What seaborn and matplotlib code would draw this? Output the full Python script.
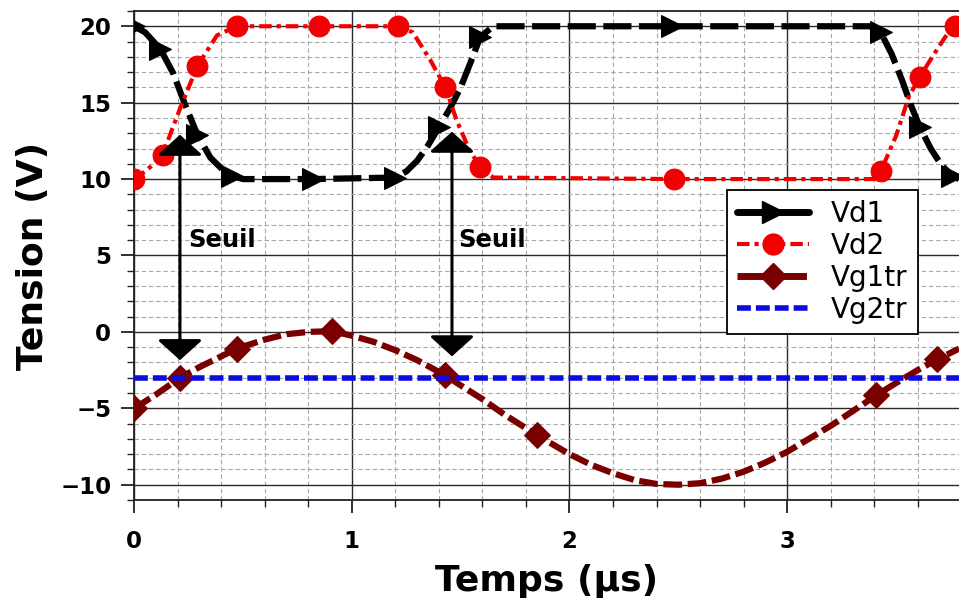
import seaborn as sns
import matplotlib.pyplot as plt
from matplotlib.lines import Line2D
from matplotlib.ticker import MultipleLocator

# Data (time in µs, tension in V)
vd1_t = [0, 0.05, 0.12, 0.18, 0.23, 0.29, 0.35, 0.40, 0.45, 0.50, 0.82, 1.20, 1.25, 1.30,
         1.35, 1.40, 1.45, 1.50, 1.55, 1.59, 1.65, 2.47, 3.38, 3.43, 3.48, 3.53, 3.57, 3.61,
         3.66, 3.71, 3.76, 3.79]
vd1_v = [20, 19.6, 18.5, 16.9, 15.0, 12.9, 11.4, 10.7, 10.2, 10.0, 10.0, 10.1, 10.5, 11.2,
         12.2, 13.4, 14.6, 16.0, 17.8, 19.3, 20.0, 20.0, 20.0, 19.6, 18.2, 16.4, 14.8, 13.4,
         12.0, 10.9, 10.2, 10.0]
vd1_marks = [0, 0.12, 0.29, 0.45, 0.82, 1.20, 1.40, 1.59, 2.47, 3.43, 3.61, 3.76]

vd2_t = [0, 0.06, 0.13, 0.21, 0.29, 0.38, 0.47, 0.85, 1.21, 1.28, 1.36, 1.43, 1.48, 1.54,
         1.59, 1.65, 2.48, 3.40, 3.43, 3.50, 3.56, 3.61, 3.69, 3.75, 3.77, 3.79]
vd2_v = [10, 10.6, 11.6, 14.6, 17.4, 19.4, 20, 20, 20, 19.6, 17.8, 16.0, 13.9, 11.9,
         10.8, 10.1, 10, 10, 10.5, 12.8, 15.4, 16.7, 18.5, 19.8, 20, 20]
vd2_marks = [0, 0.13, 0.29, 0.47, 0.85, 1.21, 1.43, 1.59, 2.48, 3.43, 3.61, 3.77]

vg1_t = [0, 0.1, 0.21, 0.3, 0.4, 0.47, 0.6, 0.7, 0.8, 0.91, 1.0, 1.1, 1.2, 1.3, 1.43, 1.5,
         1.6, 1.7, 1.85, 2.0, 2.1, 2.2, 2.3, 2.4, 2.5, 2.6, 2.7, 2.8, 2.9, 3.0, 3.1, 3.2,
         3.3, 3.41, 3.5, 3.6, 3.69, 3.79]
vg1_v = [-5.0, -4.1, -3.0, -2.3, -1.6, -1.1, -0.5, -0.15, 0.0, 0.05, -0.25, -0.65, -1.2,
         -1.85, -2.85, -3.5, -4.4, -5.4, -6.75, -8.0, -8.7, -9.25, -9.7, -9.95, -10.0, -9.9,
         -9.6, -9.15, -8.55, -7.85, -7.0, -6.15, -5.2, -4.15, -3.35, -2.5, -1.8, -1.1]
vg1_marks = [0, 0.21, 0.47, 0.91, 1.43, 1.85, 3.41, 3.69]

vg2_t = [0, 3.79]
vg2_v = [-3, -3]

# Threshold arrows: x position, top and bottom of the arrow
seuil_x = [0.21, 1.46]
seuil_top = [12.9, 13.1]
seuil_bot = [-1.85, -1.6]
seuil_text_x = [0.25, 1.49]
seuil_text_y = [6.0, 6.0]

sns.set_theme(style="white")
plt.rcParams['font.family'] = ['DejaVu Sans']
plt.rcParams['text.color'] = 'black'
plt.rcParams['axes.labelcolor'] = 'black'
plt.rcParams['xtick.color'] = 'black'
plt.rcParams['ytick.color'] = 'black'

fig = plt.figure(figsize=(9.59, 6.03), dpi=100)
ax = fig.add_axes([0.140, 0.1708, 0.860, 0.811])

c_vd2 = '#f00000'
c_vg1 = '#7a0000'
c_vg2 = '#0c0cde'

sns.lineplot(x=vd1_t, y=vd1_v, ax=ax, estimator=None, sort=False, color='black', lw=4.5,
             linestyle=(0, (4.5, 1.2)), marker='>', ms=16, markeredgecolor='black',
             markevery=[vd1_t.index(t) for t in vd1_marks], zorder=3)
sns.lineplot(x=vd2_t, y=vd2_v, ax=ax, estimator=None, sort=False, color=c_vd2, lw=3,
             linestyle=(0, (3, 1.2, 1, 1.2)), marker='o', ms=15, markeredgecolor=c_vd2,
             markevery=[vd2_t.index(t) for t in vd2_marks], zorder=4)
sns.lineplot(x=vg1_t, y=vg1_v, ax=ax, estimator=None, sort=False, color=c_vg1, lw=4.5,
             linestyle=(0, (3, 0.9)), marker='D', ms=13, markeredgecolor=c_vg1,
             markevery=[vg1_t.index(t) for t in vg1_marks], zorder=3)
sns.lineplot(x=vg2_t, y=vg2_v, ax=ax, estimator=None, sort=False, color=c_vg2, lw=4,
             linestyle=(0, (2.5, 0.9)), zorder=3)

# Seuil arrows and labels
for x, top, bot, tx, ty in zip(seuil_x, seuil_top, seuil_bot, seuil_text_x, seuil_text_y):
    ax.annotate("", xy=(x, bot), xytext=(x, top),
                arrowprops=dict(arrowstyle="<|-|>,head_length=0.63,head_width=0.7",
                                color='black', lw=2.2, mutation_scale=20,
                                shrinkA=0, shrinkB=0), zorder=5)
    ax.text(tx, ty, "Seuil", fontsize=17.5, fontweight='bold', ha='left', va='center',
            zorder=5)

ax.set_xlim(0, 3.79)
ax.set_ylim(-11, 21)
ax.xaxis.set_major_locator(MultipleLocator(1))
ax.xaxis.set_minor_locator(MultipleLocator(0.2))
ax.yaxis.set_major_locator(MultipleLocator(5))
ax.yaxis.set_minor_locator(MultipleLocator(1))

ax.set_axisbelow(True)
ax.grid(which='major', color='#2a2a2a', lw=1.0, ls='-')
ax.grid(which='minor', color='#a8a8a8', lw=0.8, ls=(0, (4, 2.5)))

for side in ['top', 'left', 'bottom']:
    ax.spines[side].set_color('#222222')
    ax.spines[side].set_linewidth(1.3)
ax.spines['right'].set_visible(False)

ax.tick_params(which='major', direction='out', length=9.5, width=1.3, color='#222222',
               labelsize=16.5, pad=7, left=True, bottom=True)
ax.tick_params(axis='x', which='major', pad=12)
ax.tick_params(which='minor', direction='out', length=5, width=1.0, color='#222222',
               left=True, bottom=True)
for lab in ax.get_xticklabels() + ax.get_yticklabels():
    lab.set_fontweight('bold')

ax.set_xlabel("Temps (µs)", fontsize=26, fontweight='bold', labelpad=8)
ax.set_ylabel("Tension (V)", fontsize=26, fontweight='bold', labelpad=7)

handles = [
    Line2D([], [], color='black', lw=5, marker='>', ms=16, markeredgecolor='black'),
    Line2D([], [], color=c_vd2, lw=3, linestyle=(0, (3, 1.2, 1, 1.2)), marker='o', ms=15,
           markeredgecolor=c_vd2),
    Line2D([], [], color=c_vg1, lw=5, linestyle=(0, (4.5, 1.0)), marker='D', ms=13,
           markeredgecolor=c_vg1),
    Line2D([], [], color=c_vg2, lw=4, linestyle=(0, (2.5, 0.9))),
]
leg = ax.legend(handles, ["Vd1", "Vd2", "Vg1tr", "Vg2tr"], loc='upper left',
                bbox_to_anchor=(0.7187, 0.634), fontsize=20, numpoints=1, handlelength=2.6,
                handletextpad=0.8, labelspacing=0.15, borderpad=0.35, borderaxespad=0,
                fancybox=False, framealpha=1, edgecolor='black')
leg.get_frame().set_linewidth(1.3)
leg.set_zorder(6)

fig.savefig("out.png", dpi=100)
